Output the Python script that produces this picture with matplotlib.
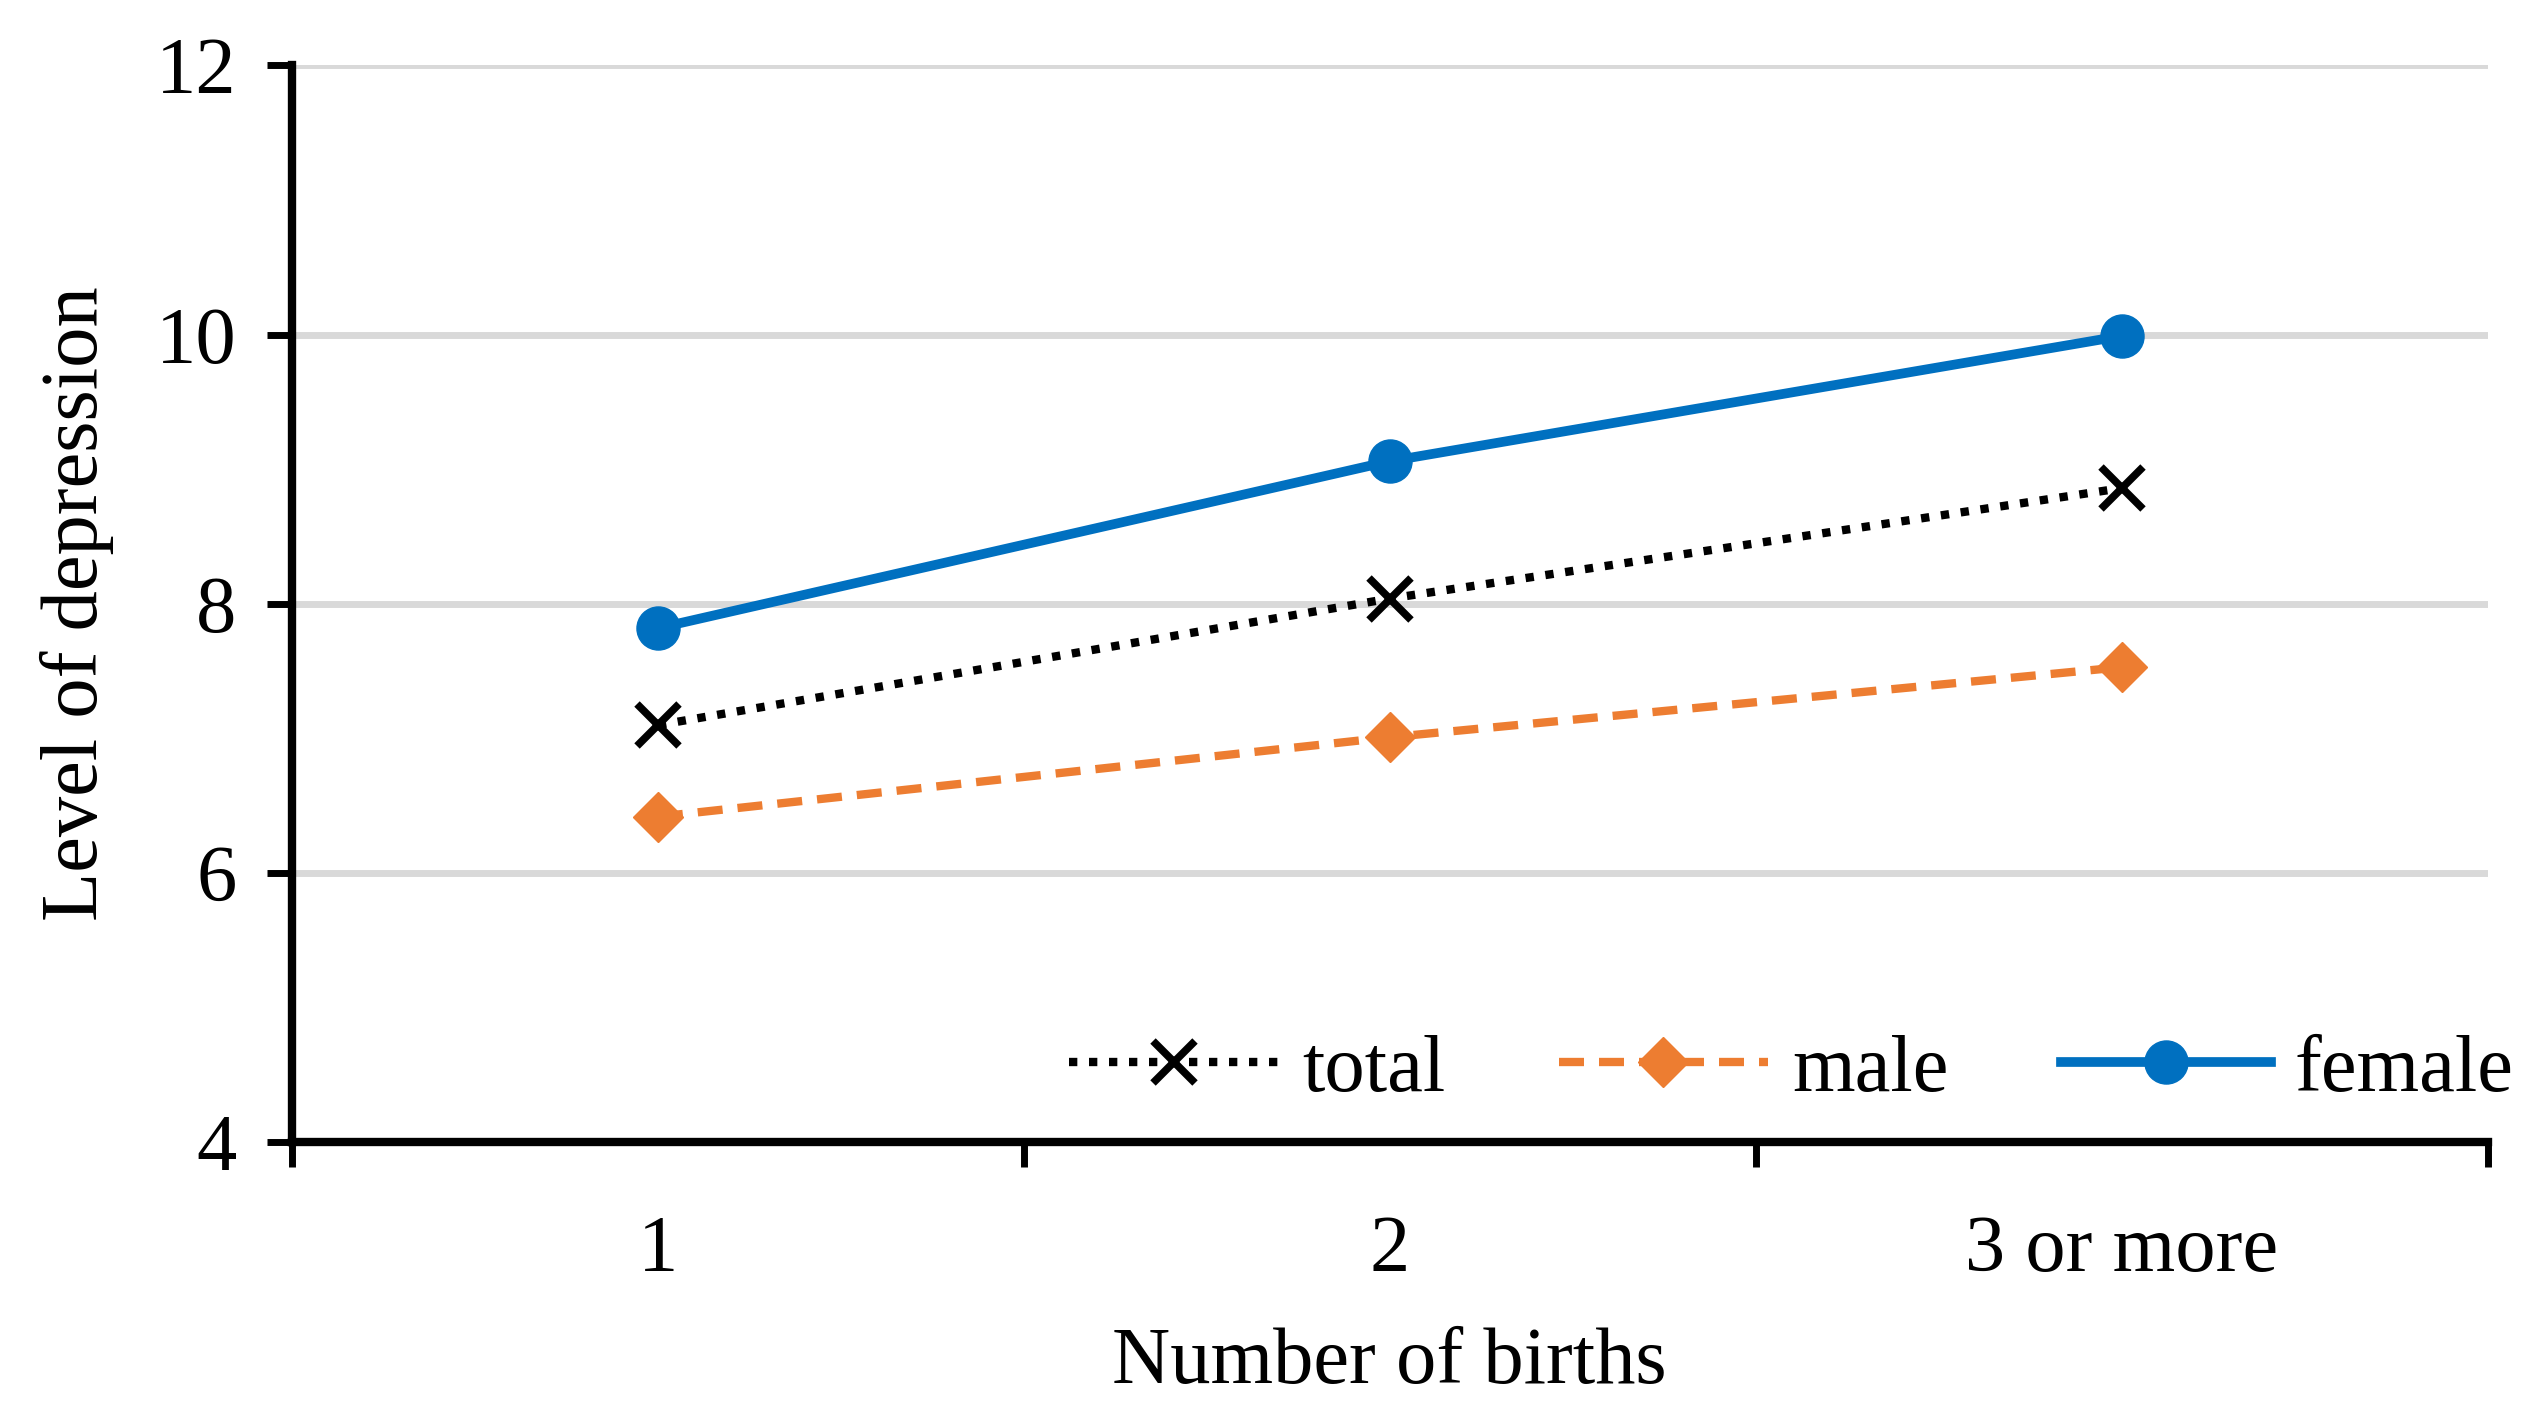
import matplotlib.pyplot as plt

plt.rcParams['font.family'] = ['Liberation Serif', 'DejaVu Serif']

categories = ["1", "2", "3 or more"]
total = [7.10, 8.04, 8.86]
male = [6.42, 7.01, 7.53]
female = [7.82, 9.06, 9.99]

x = [1, 2, 3]

fig = plt.figure(figsize=(25.44, 14.21), dpi=100)
ax = fig.add_axes([0.1148, 0.196, 0.863, 0.758])

ax.plot(x, total, color='black', linestyle=(0, (1, 1.4)), linewidth=6,
        marker='x', markersize=30, markeredgewidth=5.5, label='total')
ax.plot(x, male, color='#ED7D31', linestyle=(0, (3, 1.8)), linewidth=6,
        marker='D', markersize=25, label='male')
ax.plot(x, female, color='#0070C0', linestyle='-', linewidth=7,
        marker='o', markersize=31, label='female')

ax.set_xlim(0.5, 3.5)
ax.set_ylim(4, 12)
ax.set_yticks([4, 6, 8, 10, 12])
ax.set_xticks([0.5, 1.5, 2.5, 3.5])
ax.set_xticklabels([])
ax.set_xticks(x, minor=True)
ax.set_xticklabels(categories, minor=True)
ax.tick_params(axis='x', which='minor', length=0, pad=52, labelsize=58)
ax.tick_params(axis='x', which='major', length=18, width=5, direction='out')
ax.tick_params(axis='y', length=18, width=5, direction='out', pad=22, labelsize=58)

ax.grid(axis='y', color='#D9D9D9', linewidth=5)
ax.set_axisbelow(True)
for s in ['top', 'right']:
    ax.spines[s].set_visible(False)
for s in ['left', 'bottom']:
    ax.spines[s].set_linewidth(6)

ax.set_xlabel("Number of births", fontsize=58, labelpad=28)
ax.set_ylabel("Level of depression", fontsize=58, labelpad=30)

ax.legend(loc='lower right', bbox_to_anchor=(1.045, -0.035), ncol=3, frameon=False,
          fontsize=58, handlelength=2.6, columnspacing=1.4, handletextpad=0.3)

fig.savefig("out.png", dpi=100)
